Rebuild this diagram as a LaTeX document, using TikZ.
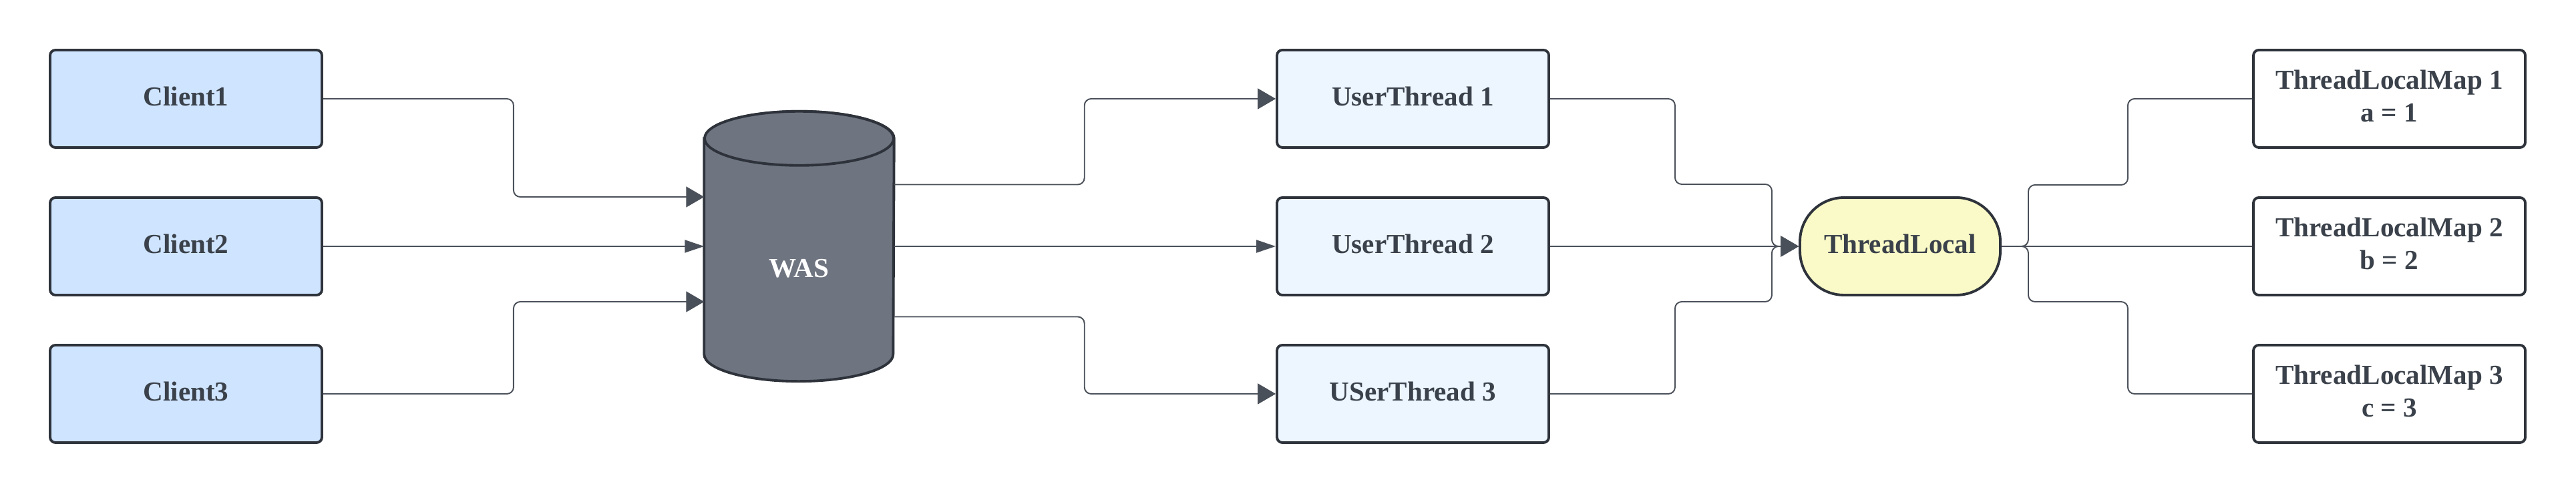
\documentclass[tikz,border=0pt]{standalone}
\usepackage{fontspec}
\setmainfont{Liberation Serif}
\usetikzlibrary{arrows.meta, calc}

\definecolor{edge}{HTML}{2E333B}
\definecolor{ink}{HTML}{3A414A}
\definecolor{wire}{HTML}{4A5059}
\definecolor{clientfill}{HTML}{CFE4FF}
\definecolor{threadfill}{HTML}{EDF5FF}
\definecolor{localfill}{HTML}{FAFAC8}
\definecolor{wasfill}{HTML}{6E7480}

\begin{document}
\begin{tikzpicture}[
    box/.style = {draw=edge, line width=1.1pt, rounded corners=0.8mm, minimum width=4.07cm, minimum height=1.46cm, inner sep=0pt, text depth=0.08cm, align=center, text=ink, font=\bfseries\fontsize{11.7}{14}\selectfont},
    client/.style = {box, fill=clientfill},
    uthread/.style = {box, fill=threadfill},
    localmap/.style = {box, fill=white},
    local/.style = {box, fill=localfill, rounded corners=0.66cm, minimum width=3cm},
    cylbody/.style = {draw=edge, line width=1.1pt, fill=wasfill},
    link/.style = {draw=wire, line width=0.55pt, rounded corners=1mm},
    bigtip/.style = {-{Triangle[length=0.27cm, width=0.31cm]}},
    smalltip/.style = {-{Triangle[length=0.29cm, width=0.19cm]}}
] 
        \useasboundingbox (0, 0) rectangle (38.57, 7.37);

        \node[client] at (2.785, 5.89) (c1) {Client1};
        \node[client] at (2.785, 3.68) (c2) {Client2};
        \node[client] at (2.785, 1.47) (c3) {Client3};

        % the server cylinder, drawn round an empty node
        \node[inner sep=0pt, minimum width=2.83cm, minimum height=4.03cm] at (11.965, 3.68) (was) {};
        \draw[cylbody] ($(was.north west)+(0,-0.405)$) -- ($(was.south west)+(0,0.405)$) arc[start angle=180, end angle=360, x radius=1.415cm, y radius=0.405cm] -- ($(was.north east)+(0,-0.405)$) arc[start angle=0, end angle=180, x radius=1.415cm, y radius=0.405cm] -- cycle;
        \draw[cylbody] ($(was.north)+(0,-0.405)$) ellipse [x radius=1.415cm, y radius=0.405cm];
        \node[text=white, font=\bfseries\fontsize{11.7}{14}\selectfont] at ($(was.center)+(0,-0.33)$) (waslabel) {WAS};

        \node[uthread] at (21.155, 5.89) (u1) {UserThread 1};
        \node[uthread] at (21.155, 3.68) (u2) {UserThread 2};
        \node[uthread] at (21.155, 1.47) (u3) {USerThread 3};

        \node[local] at (28.45, 3.68) (tl) {ThreadLocal};

        \node[localmap] at (35.775, 5.89) (m1) {ThreadLocalMap 1\\a = 1};
        \node[localmap] at (35.775, 3.68) (m2) {ThreadLocalMap 2\\b = 2};
        \node[localmap] at (35.775, 1.47) (m3) {ThreadLocalMap 3\\c = 3};

        \draw [link, bigtip] (c1.east) -- ++(2.85, 0) |- ($(was.west)+(0, 0.74)$);
        \draw [link, smalltip] (c2.east) -- (was.west);
        \draw [link, bigtip] (c3.east) -- ++(2.85, 0) |- ($(was.west)+(0, -0.83)$);

        \draw [link, bigtip] ($(was.east)+(0, 0.925)$) -- ++(2.85, 0) |- (u1.west);
        \draw [link, smalltip] (was.east) -- (u2.west);
        \draw [link, bigtip] ($(was.east)+(0, -1.055)$) -- ++(2.85, 0) |- (u3.west);

        \draw [link, bigtip] (u1.east) -- ++(1.87, 0) |- ++(1.45, -1.28) |- (tl.west);
        \draw [link, bigtip] (u2.east) -- (tl.west);
        \draw [link, bigtip] (u3.east) -- ++(1.87, 0) |- ++(1.45, 1.38) |- (tl.west);

        \draw [link] (tl.east) -- ++(0.4, 0) |- ++(1.49, 0.92) |- (m1.west);
        \draw [link] (tl.east) -- (m2.west);
        \draw [link] (tl.east) -- ++(0.4, 0) |- ++(1.49, -0.83) |- (m3.west);
        \end{tikzpicture}
\end{document}
